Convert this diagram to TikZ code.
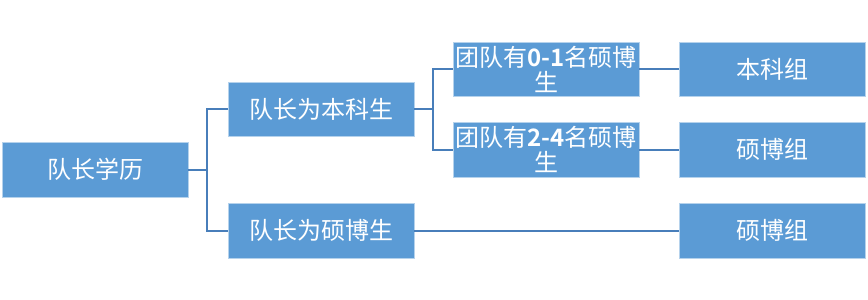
\documentclass[tikz,border=0pt]{standalone}
\usepackage{fontspec}
\setmainfont{Noto Sans CJK SC}[BoldFont={Noto Sans CJK SC Bold}]
\usetikzlibrary{positioning}
\definecolor{boxblue}{RGB}{91,155,213}
\definecolor{linkblue}{RGB}{72,126,186}
\tikzset{
  catbox/.style={fill=boxblue,draw=boxblue!45!white,line width=0.6pt,minimum width=186pt,minimum height=54pt,inner sep=0pt,align=center,text=white,font=\fontsize{24}{25}\selectfont},
  link/.style={draw=linkblue,line width=2pt}
}
\begin{document}
\begin{tikzpicture}[x=1pt,y=-1pt]
\useasboundingbox (0,0) rectangle (868,300);
% Niveles del arbol
\node[catbox,minimum height=55pt] (root) at (95,169.5) {队长学历};
\node[catbox] (lead1) at (321,109) {队长为本科生};
\node[catbox,minimum height=55pt] (lead2) at (321,230.5) {队长为硕博生};
\node[catbox] (team1) at (546,69) {团队有\textbf{0-1}名硕博\\生};
\node[catbox,minimum height=55pt] (team2) at (546,149.5) {团队有\textbf{2-4}名硕博\\生};
\node[catbox] (grp1) at (772,69) {本科组};
\node[catbox,minimum height=55pt] (grp2) at (772,149.5) {硕博组};
\node[catbox,minimum height=55pt] (grp3) at (772,230.5) {硕博组};

\coordinate (j1) at (207,169.5);
\coordinate (j2) at (433,109);

\draw[link] (root.east) -- (j1);
\draw[link] (j1) |- (lead1.west);
\draw[link] (j1) |- (lead2.west);
\draw[link] (lead1.east) -- (j2);
\draw[link] (j2) |- (team1.west);
\draw[link] (j2) |- (team2.west);
\draw[link] (team1.east) -- (grp1.west);
\draw[link] (team2.east) -- (grp2.west);
\draw[link] (lead2.east) -- (grp3.west);
\end{tikzpicture}
\end{document}
